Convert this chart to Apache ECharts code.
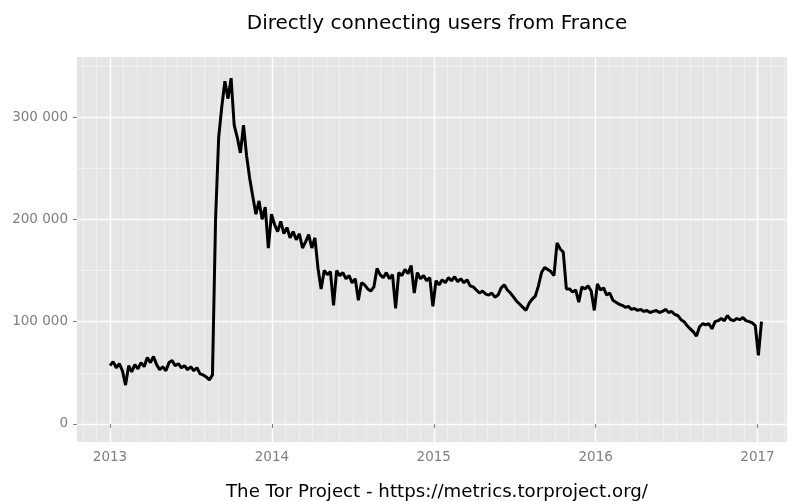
<!DOCTYPE html>
<html>
<head>
<meta charset="utf-8">
<script src="https://cdn.jsdelivr.net/npm/echarts@6/dist/echarts.min.js"></script>
<style>
  html, body { margin: 0; padding: 0; background: #fff; }
  #chart { width: 787px; height: 501px; }
</style>
</head>
<body>
<div id="chart"></div>
<script>
// weekly samples of directly connecting users (thousands), starting 2013-01-01
var firstWeek = '2013-01-01';
var users2013 = [57, 61, 55, 59, 52, 38, 57, 51, 58, 54, 60, 56, 65, 60, 66, 58, 53, 56, 52, 60,
  62, 57, 59, 55, 57, 53, 56, 52, 55, 49, 48, 46, 43, 48, 200, 280, 310, 335, 318, 338,
  292, 280, 265, 292, 262, 240, 222, 205, 218, 200, 212, 172, 205];
var users2014 = [195, 188, 198, 186, 192, 182, 188, 180, 186, 172, 178, 185, 172, 182, 152, 132, 150, 146, 149, 116,
  150, 145, 148, 142, 145, 138, 142, 121, 138, 136, 132, 130, 134, 152, 146, 143, 148, 142, 146, 113,
  148, 145, 151, 147, 155, 128, 148, 142, 145, 140, 143, 115];
var users2015 = [140, 136, 141, 138, 143, 140, 144, 139, 142, 138, 141, 135, 134, 131, 128, 130, 127, 126, 128, 124,
  126, 133, 136, 131, 128, 124, 120, 117, 114, 111, 118, 122, 125, 135, 148, 153, 151, 149, 145, 177,
  171, 168, 132, 132, 129, 131, 119, 134, 132, 135, 130, 111];
var users2016 = [137, 131, 133, 126, 128, 121, 119, 117, 116, 114, 115, 112, 113, 111, 112, 110, 111, 109, 110, 111,
  109, 110, 112, 109, 110, 107, 106, 102, 100, 96, 93, 90, 86, 95, 98, 97, 98, 93, 100, 101,
  103, 101, 106, 102, 101, 103, 102, 104, 101, 100, 99, 96];
var users2017 = [67, 100];

var xRange = [2012.796, 2017.244];
var yRange = [-17.6, 358.7];

var DAY = 86400000;

// date -> fractional year, so that the axis ticks fall on 1 January
function yearFrac(t) {
  var y = new Date(t).getUTCFullYear();
  var a = Date.UTC(y, 0, 1), b = Date.UTC(y + 1, 0, 1);
  return y + (t - a) / (b - a);
}

var users = [].concat(users2013, users2014, users2015, users2016, users2017);
var start = Date.parse(firstWeek + 'T00:00:00Z');
var data = [];
for (var i = 0; i < users.length; i++) {
  data.push([yearFrac(start + i * 7 * DAY), users[i]]);
}

var chart = echarts.init(document.getElementById('chart'));
var font = 'DejaVu Sans';

chart.setOption({
  animation: false,
  backgroundColor: '#fff',
  textStyle: { fontFamily: font },
  title: {
    text: 'Directly connecting users from France',
    left: 432,
    top: 9,
    textAlign: 'center',
    textStyle: { fontFamily: font, fontSize: 20, fontWeight: 'normal', color: '#000' }
  },
  grid: {
    left: 77,
    right: -10,
    top: 57,
    bottom: 59,
    outerBoundsMode: 'none',
    containLabel: false,
    show: true,
    backgroundColor: '#e5e5e5',
    borderWidth: 0
  },
  xAxis: {
    type: 'value',
    min: xRange[0],
    max: xRange[1],
    name: 'The Tor Project - https://metrics.torproject.org/',
    nameLocation: 'middle',
    nameGap: 41,
    nameTextStyle: { fontFamily: font, fontSize: 18.2, color: '#000' },
    axisLine: { show: false },
    axisTick: { show: true, length: 4, lineStyle: { color: '#7f7f7f' } },
    axisLabel: {
      color: '#7f7f7f', fontSize: 13.5, margin: 8,
      showMinLabel: false, showMaxLabel: false,
      formatter: function (v) { return String(Math.round(v)); }
    },
    splitLine: { show: true, showMinLine: false, showMaxLine: false, lineStyle: { color: '#ffffff', width: 1.4 } },
    minorTick: { show: false, splitNumber: 12 },
    minorSplitLine: { show: true, lineStyle: { color: '#f2f2f2', width: 0.8 } }
  },
  yAxis: {
    type: 'value',
    min: yRange[0],
    max: yRange[1],
    axisLine: { show: false },
    axisTick: { show: true, length: 4, lineStyle: { color: '#7f7f7f' } },
    axisLabel: {
      color: '#7f7f7f', fontSize: 13.5, margin: 9,
      showMinLabel: false, showMaxLabel: false,
      formatter: function (v) { return v === 0 ? '0' : v + ' 000'; }
    },
    splitLine: { show: true, showMinLine: false, showMaxLine: false, lineStyle: { color: '#ffffff', width: 1.4 } },
    minorTick: { show: false, splitNumber: 2 },
    minorSplitLine: { show: true, lineStyle: { color: '#f2f2f2', width: 0.8 } }
  },
  series: [{
    name: 'users',
    type: 'line',
    showSymbol: false,
    data: data,
    lineStyle: { color: '#000', width: 3 },
    itemStyle: { color: '#000' }
  }]
});
</script>
</body>
</html>
